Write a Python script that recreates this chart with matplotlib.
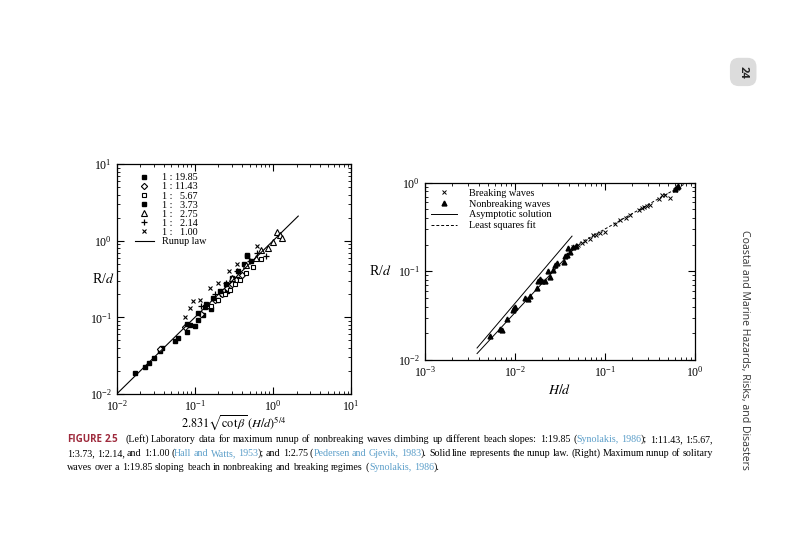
import numpy as np
import matplotlib
matplotlib.use('Agg')
import matplotlib.pyplot as plt

plt.rcParams['font.family'] = ['Liberation Serif', 'DejaVu Serif']
plt.rcParams['mathtext.fontset'] = 'stix'

# ---- left panel data (laboratory runup, x = 2.831 sqrt(cot b) (H/d)^5/4) ----
s1985_x = [0.017, 0.0229, 0.0259, 0.0298, 0.0356, 0.0374, 0.0555, 0.061, 0.0783, 0.086,
           0.1, 0.11, 0.128, 0.135, 0.16, 0.19, 0.22, 0.26, 0.3, 0.35, 0.46]
s1985_y = [0.019, 0.0223, 0.0256, 0.0293, 0.0365, 0.040, 0.0492, 0.0533, 0.0652, 0.080,
           0.078, 0.0927, 0.108, 0.138, 0.13, 0.17, 0.2, 0.22, 0.28, 0.32, 0.63]
s1143_x = [0.036, 0.075, 0.12, 0.15, 0.18, 0.22, 0.26, 0.3, 0.34, 0.4]
s1143_y = [0.038, 0.075, 0.11, 0.14, 0.17, 0.2, 0.24, 0.27, 0.31, 0.36]
s567_x = [0.16, 0.2, 0.24, 0.28, 0.33, 0.38, 0.45, 0.55, 0.7]
s567_y = [0.14, 0.17, 0.2, 0.23, 0.27, 0.31, 0.38, 0.45, 0.58]
s373_x = [0.08, 0.11, 0.14, 0.17, 0.21, 0.25, 0.3, 0.36, 0.42, 0.47, 0.52]
s373_y = [0.083, 0.115, 0.15, 0.18, 0.22, 0.27, 0.33, 0.4, 0.5, 0.65, 0.55]
s275_x = [0.3, 0.45, 0.6, 0.71, 0.85, 1.0, 1.11, 1.24, 1.3]
s275_y = [0.33, 0.48, 0.6, 0.76, 0.8, 0.97, 1.31, 1.18, 1.1]
s214_x = [0.12, 0.18, 0.25, 0.35, 0.5, 0.63, 0.81]
s214_y = [0.14, 0.2, 0.28, 0.4, 0.55, 0.7, 0.63]
s100_x = [0.074, 0.086, 0.095, 0.116, 0.155, 0.2, 0.27, 0.35, 0.62]
s100_y = [0.10, 0.133, 0.161, 0.17, 0.24, 0.28, 0.40, 0.5, 0.85]
law_x = [0.01, 2.1]

# ---- right panel data (solitary waves on 1:19.85 beach) ----
nb_x = [0.00527, 0.0071, 0.0068, 0.0081, 0.00957, 0.0100, 0.0098, 0.0129, 0.01406, 0.0147,
        0.0174, 0.0181, 0.0198, 0.0215, 0.0190, 0.0245, 0.0234, 0.0267, 0.0278, 0.029,
        0.0353, 0.0358, 0.0374, 0.0411, 0.039, 0.0443, 0.047, 0.6, 0.63, 0.65]
nb_y = [0.0187, 0.0218, 0.0225, 0.0288, 0.0367, 0.040, 0.038, 0.050, 0.0486, 0.0519,
        0.0646, 0.0767, 0.0767, 0.0767, 0.0813, 0.0873, 0.0995, 0.104, 0.118, 0.123,
        0.128, 0.147, 0.153, 0.166, 0.181, 0.187, 0.193, 0.86, 0.9, 0.92]
br_x = [0.044, 0.05, 0.055, 0.06, 0.068, 0.073, 0.08, 0.088, 0.1, 0.13, 0.146, 0.17,
        0.19, 0.24, 0.256, 0.27, 0.29, 0.316, 0.4, 0.426, 0.46, 0.53, 0.6]
br_y = [0.19, 0.2, 0.21, 0.22, 0.23, 0.258, 0.26, 0.27, 0.28, 0.34, 0.38, 0.4,
        0.43, 0.49, 0.52, 0.53, 0.54, 0.56, 0.66, 0.73, 0.73, 0.67, 0.83]
asym_x = [0.0038, 0.043]     # asymptotic solution range
nbfit_x = [0.0038, 0.05]     # nonbreaking least squares
brfit_x = [0.042, 0.75]      # breaking least squares


def powerlaw(x, a, b):
    return a * np.asarray(x) ** b


fig = plt.figure(figsize=(8, 5.33), dpi=100)
fig.patch.set_facecolor('white')


def style_log_axes(ax):
    ax.set_xscale('log')
    ax.set_yscale('log')
    ax.tick_params(which='both', direction='in', top=True, right=True, labelsize=8.5)
    ax.tick_params(which='major', length=5)
    ax.tick_params(which='minor', length=2.5)
    for s in ax.spines.values():
        s.set_linewidth(0.9)


# ---------------- left panel ----------------
ax1 = fig.add_axes([0.146, 0.261, 0.293, 0.431])
style_log_axes(ax1)
ms = 3.2
h = []
h += ax1.plot(s1985_x, s1985_y, 's', color='k', ms=ms, label='1 : 19.85')
h += ax1.plot(s1143_x, s1143_y, 'D', mfc='white', mec='k', mew=0.8, ms=ms, label='1 : 11.43')
h += ax1.plot(s567_x, s567_y, 's', mfc='white', mec='k', mew=0.8, ms=ms, label='1 :   5.67')
h += ax1.plot(s373_x, s373_y, 's', color='k', ms=2.2, label='1 :   3.73')
h += ax1.plot(s275_x, s275_y, '^', mfc='white', mec='k', mew=0.8, ms=ms + 0.5, label='1 :   2.75')
h += ax1.plot(s214_x, s214_y, '+', color='k', mew=0.9, ms=ms + 0.5, label='1 :   2.14')
h += ax1.plot(s100_x, s100_y, 'x', color='k', mew=0.8, ms=ms, label='1 :   1.00')
h += ax1.plot(law_x, law_x, '-', color='k', lw=0.8, label='Runup law')
ax1.set_xlim(1e-2, 1e1)
ax1.set_ylim(1e-2, 1e1)
ax1.legend(handles=h, loc='upper left', frameon=False, fontsize=7.3, handlelength=1.8,
           handletextpad=0.8, labelspacing=0.0, borderaxespad=0.5,
           bbox_to_anchor=(0.04, 1.0))
ax1.set_xlabel(r'$2.831\sqrt{\cot\beta}\,(H/d)^{5/4}$', fontsize=8.8, labelpad=0)
ax1.set_ylabel(r'R/$d$', rotation=0, fontsize=10, va='center', ha='center')
ax1.yaxis.set_label_coords(-0.06, 0.5)

# ---------------- right panel ----------------
ax2 = fig.add_axes([0.531, 0.325, 0.338, 0.332])
style_log_axes(ax2)
hr = []
hr += ax2.plot(br_x, br_y, 'x', color='k', mew=0.7, ms=3, label='Breaking waves')
hr += ax2.plot(nb_x, nb_y, '^', color='k', ms=3.5, label='Nonbreaking waves')
hr += ax2.plot(asym_x, powerlaw(asym_x, 10.9, 1.2), '-', color='k', lw=0.7,
               label='Asymptotic solution')
ax2.plot(nbfit_x, powerlaw(nbfit_x, 5.40, 1.1), '-', color='k', lw=0.7)
hr += ax2.plot(brfit_x, powerlaw(brfit_x, 1.134, 0.576), '--', color='k', lw=0.7,
               dashes=(3, 2), label='Least squares fit')
ax2.set_xlim(1e-3, 1e0)
ax2.set_ylim(1e-2, 1e0)
ax2.legend(handles=hr, loc='upper left', frameon=False, fontsize=7.3, handlelength=2.6,
           handletextpad=1.2, labelspacing=0.15, borderaxespad=0.2)
ax2.set_xlabel(r'$H/d$', fontsize=10, labelpad=3)
ax2.set_ylabel(r'R/$d$', rotation=0, fontsize=10, va='center', ha='center')
ax2.yaxis.set_label_coords(-0.165, 0.5)

# ---------------- caption ----------------
BLACK = dict(color='black', family=['Liberation Serif', 'DejaVu Serif'], weight='normal', size=7.2)
CITE = dict(BLACK, color='#5b9ec9')
HEAD = dict(color='#9e2a3c', family=['Open Sans', 'DejaVu Sans'], weight='bold', size=7.0)

caption = [
    ([('FIGURE 2.5', HEAD),
      ('  (Left) Laboratory data for maximum runup of nonbreaking waves climbing up different '
       'beach slopes: 1:19.85 (', BLACK),
      ('Synolakis, 1986', CITE), ('); 1:11.43, 1:5.67,', BLACK)], True),
    ([('1:3.73, 1:2.14, and 1:1.00 (', BLACK), ('Hall and Watts, 1953', CITE),
      ('); and 1:2.75 (', BLACK), ('Pedersen and Gjevik, 1983', CITE),
      ('). Solid line represents the runup law. (Right) Maximum runup of solitary', BLACK)], True),
    ([('waves over a 1:19.85 sloping beach in nonbreaking and breaking regimes (', BLACK),
      ('Synolakis, 1986', CITE), (').', BLACK)], False),
]

renderer = fig.canvas.get_renderer()
W = fig.bbox.width
Hpx = fig.bbox.height
x_left, x_right = 67 / 800, 713 / 800
line_y = [(Hpx - 442) / Hpx, (Hpx - 456) / Hpx, (Hpx - 470) / Hpx]   # baselines

sp = fig.text(0, 0, 'a a', **BLACK)
sp2 = fig.text(0, 0, 'aa', **BLACK)
space_w = (sp.get_window_extent(renderer).width - sp2.get_window_extent(renderer).width) / W
sp.remove()
sp2.remove()

for li, ((segs, justify), yy) in enumerate(zip(caption, line_y)):
    items = []
    for text, props in segs:
        toks = text.split(' ')
        first = True
        for tk in toks:
            if tk == '':
                first = False
                continue
            sb = (not first) or text.startswith(' ')
            items.append([tk, props, sb])
            first = False
    arts = []
    widths = []
    for tk, props, sb in items:
        t = fig.text(0, yy, tk, va='baseline', ha='left', **props)
        widths.append(t.get_window_extent(renderer).width / W)
        arts.append(t)
    # wider gap after the figure number on the first line
    weights = [0] + [(2.5 if (li == 0 and i == 2) else 1) if it[2] else 0
                     for i, it in enumerate(items) if i > 0]
    gap = space_w
    if justify:
        gap = max((x_right - x_left - sum(widths)) / sum(weights), space_w * 0.6)
    x = x_left
    for t, w, wt in zip(arts, widths, weights):
        x += gap * wt
        t.set_x(round(x * W) / W)
        x += w

# ---------------- page furniture ----------------
fig.text(0.931, 0.343, 'Coastal and Marine Hazards, Risks, and Disasters', rotation=-90,
         ha='center', va='center', fontsize=7.6, color='#333333', family='Open Sans')
fig.text(0.929, 0.865, '24', rotation=-90, ha='center', va='center', fontsize=8,
         weight='bold', family='Open Sans', color='#222222',
         bbox=dict(boxstyle='round,pad=0.7,rounding_size=0.8', fc='#dcdcdc', ec='none'))

fig.savefig('out.png', dpi=100, facecolor='white')
